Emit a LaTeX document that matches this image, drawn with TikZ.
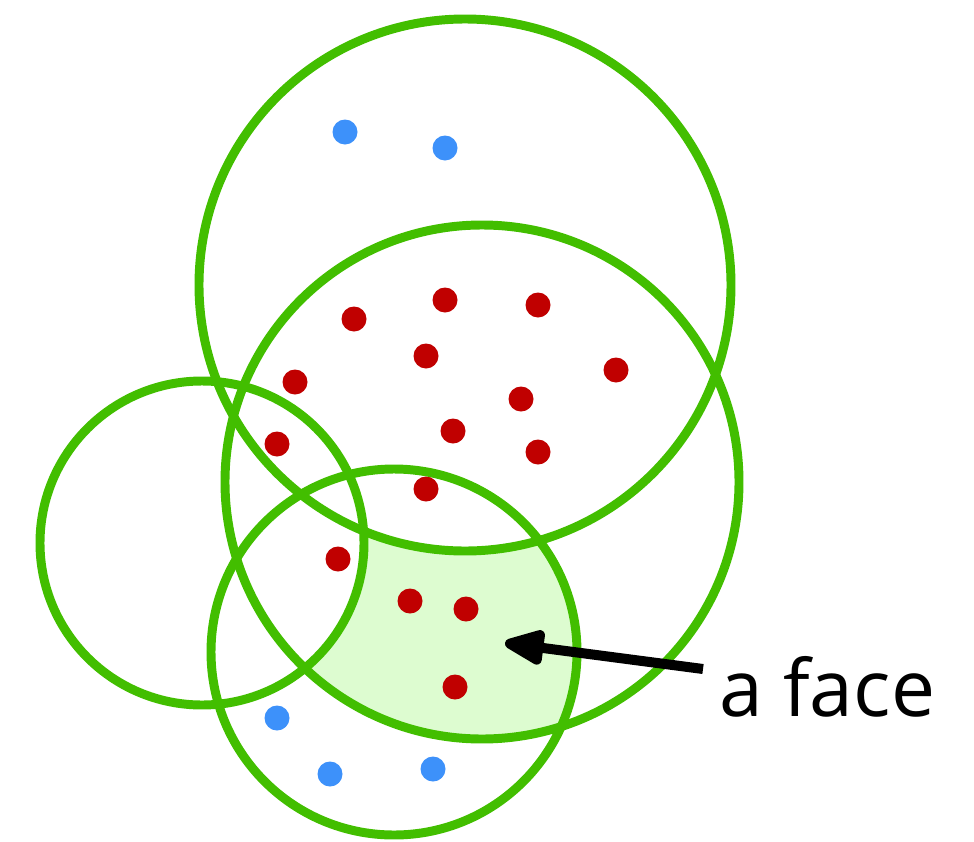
\documentclass[tikz,border=0pt]{standalone}
\usepackage{fontspec}
\newfontfamily\labelfont{Open Sans}
\usetikzlibrary{arrows.meta}
\definecolor{ringgreen}{HTML}{42BE00}
\definecolor{facefill}{HTML}{DDFCD0}
\definecolor{ptred}{HTML}{C00000}
\definecolor{ptblue}{HTML}{3D91FA}
\tikzset{
  ring/.style={draw=ringgreen, line width=5.1pt},
  redpt/.style={fill=ptred},
  bluept/.style={fill=ptblue}
}
\begin{document}
\begin{tikzpicture}[x=0.02cm, y=-0.02cm]
\useasboundingbox (0,0) rectangle (974,842);
% the four discs
\coordinate (top) at (465,285);
\coordinate (mid) at (482,482);
\coordinate (left) at (202,543);
\coordinate (bot) at (394,652);
% shaded face
\begin{scope}
  \clip (mid) circle (257);
  \clip (bot) circle (183);
  \fill[facefill] (0,0) rectangle (974,842);
  \fill[white] (top) circle (266);
  \fill[white] (left) circle (162);
\end{scope}
\draw[ring] (top) circle (266);
\draw[ring] (mid) circle (257);
\draw[ring] (left) circle (162);
\draw[ring] (bot) circle (183);
% points
\foreach \x/\y in {354/319, 445/300, 538/305, 426/356, 295/382, 616/370,
  521/399, 277/444, 453/431, 538/452, 426/489, 338/559, 410/601, 466/609, 455/687}
  \fill[redpt] (\x,\y) circle (12.5);
\foreach \x/\y in {345/132, 445/148, 277/718, 330/774, 433/769}
  \fill[bluept] (\x,\y) circle (12.5);
% label
\node[anchor=base west, inner sep=0pt, font=\labelfont\fontsize{44.7}{54}\selectfont] (lbl) at (719,716) {a face};
\coordinate (tail) at (703,669);
\coordinate (tip) at (505,643);
\draw[line width=5.7pt, -{Triangle[length=27pt, width=21pt, round]}] (tail) -- (tip);
\end{tikzpicture}
\end{document}
